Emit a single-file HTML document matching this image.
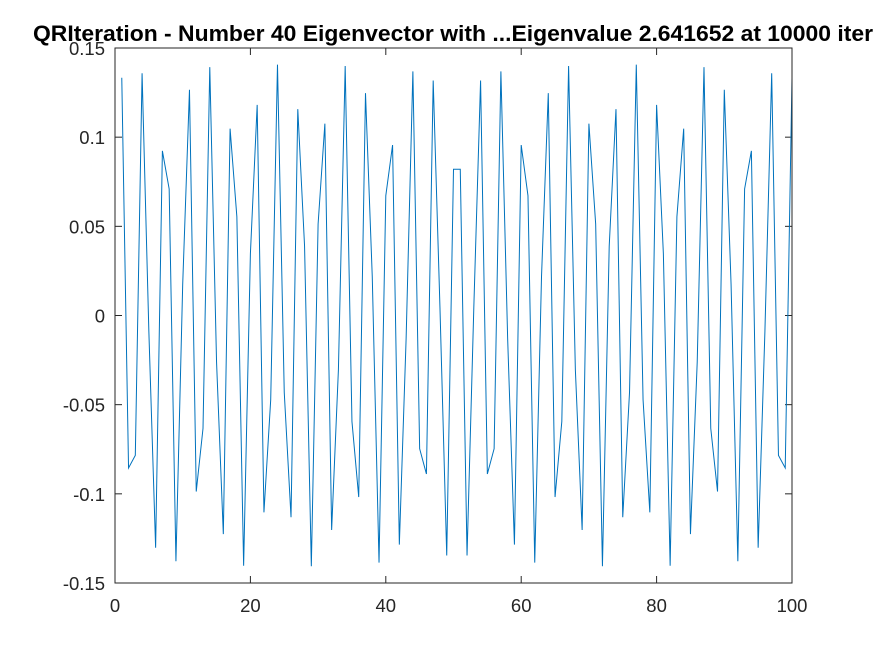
<!DOCTYPE html>
<html><head><meta charset="utf-8"><style>
html,body{margin:0;padding:0;background:#fff;}
svg text{font-family:"Liberation Sans",Arial,sans-serif;}
</style></head><body>
<svg id="chart" width="875" height="656" viewBox="0 0 875 656" xmlns="http://www.w3.org/2000/svg">
<rect x="0" y="0" width="875" height="656" fill="#fff"/>
<text x="33" y="41" font-size="22" font-weight="bold" fill="#000" textLength="840" lengthAdjust="spacingAndGlyphs">QRIteration - Number 40 Eigenvector with ...Eigenvalue 2.641652 at 10000 iter</text>
<g id="ticks"></g>
<polyline id="series" fill="none" stroke="#0072BD" stroke-width="1"/>
<rect x="115" y="48" width="677" height="535" fill="none" stroke="#262626" stroke-width="1"/>
</svg>
<script>
const xTicks = [0, 20, 40, 60, 80, 100];
const yTicks = [-0.15, -0.1, -0.05, 0, 0.05, 0.1, 0.15];
const yTickLabels = ["-0.15", "-0.1", "-0.05", "0", "0.05", "0.1", "0.15"];
const yVals = [
 0.1333,-0.0855,-0.0784,0.1358,-0.0088,-0.1302,0.0923,0.0710,-0.1378,0.0175,
 0.1266,-0.0987,-0.0633,0.1393,-0.0261,-0.1226,0.1048,0.0554,-0.1403,0.0347,
 0.1181,-0.1104,-0.0472,0.1407,-0.0431,-0.1131,0.1157,0.0389,-0.1406,0.0513,
 0.1076,-0.1203,-0.0304,0.1399,-0.0594,-0.1018,0.1247,0.0218,-0.1386,0.0672,
 0.0956,-0.1285,-0.0131,0.1369,-0.0747,-0.0889,0.1318,0.0044,-0.1346,0.0820,
 0.0820,-0.1346,0.0044,0.1318,-0.0889,-0.0747,0.1369,-0.0131,-0.1285,0.0956,
 0.0672,-0.1386,0.0218,0.1247,-0.1018,-0.0594,0.1399,-0.0304,-0.1203,0.1076,
 0.0513,-0.1406,0.0389,0.1157,-0.1131,-0.0431,0.1407,-0.0472,-0.1104,0.1181,
 0.0347,-0.1403,0.0554,0.1048,-0.1226,-0.0261,0.1393,-0.0633,-0.0987,0.1266,
 0.0175,-0.1378,0.0710,0.0923,-0.1302,-0.0088,0.1358,-0.0784,-0.0855,0.1333
];
const L=115,R=792,T=48,B=583;
const xs = v => L + (v-0)/(100-0)*(R-L);
const ys = v => B - (v+0.15)/0.3*(B-T);
const NS="http://www.w3.org/2000/svg";
const g=document.getElementById('ticks');
function ln(x1,y1,x2,y2,name){const e=document.createElementNS(NS,'line');
e.setAttribute('x1',x1);e.setAttribute('y1',y1);e.setAttribute('x2',x2);e.setAttribute('y2',y2);
e.setAttribute('stroke','#262626');e.setAttribute('stroke-width','1');


g.appendChild(e);}
function tx(x,y,s,anchor,name){const e=document.createElementNS(NS,'text');
e.setAttribute('x',x);e.setAttribute('y',y);e.setAttribute('text-anchor',anchor);
e.setAttribute('font-size','18.5');e.setAttribute('fill','#262626');e.textContent=s;


g.appendChild(e);}
xTicks.forEach(v=>{const x=xs(v);ln(x,B,x,B-7,'x-tick');ln(x,T,x,T+7,'x-tick-top');tx(x,612,String(v),'middle','x-tick-label');});
yTicks.forEach((v,i)=>{const y=ys(v);ln(L,y,L+7,y,'y-tick');ln(R,y,R-7,y,'y-tick-right');tx(L-10,y+7,yTickLabels[i],'end','y-tick-label');});
document.getElementById('series').setAttribute('points', yVals.map((v,i)=>xs(i+1).toFixed(2)+','+ys(v).toFixed(2)).join(' '));
</script>
</body></html>
